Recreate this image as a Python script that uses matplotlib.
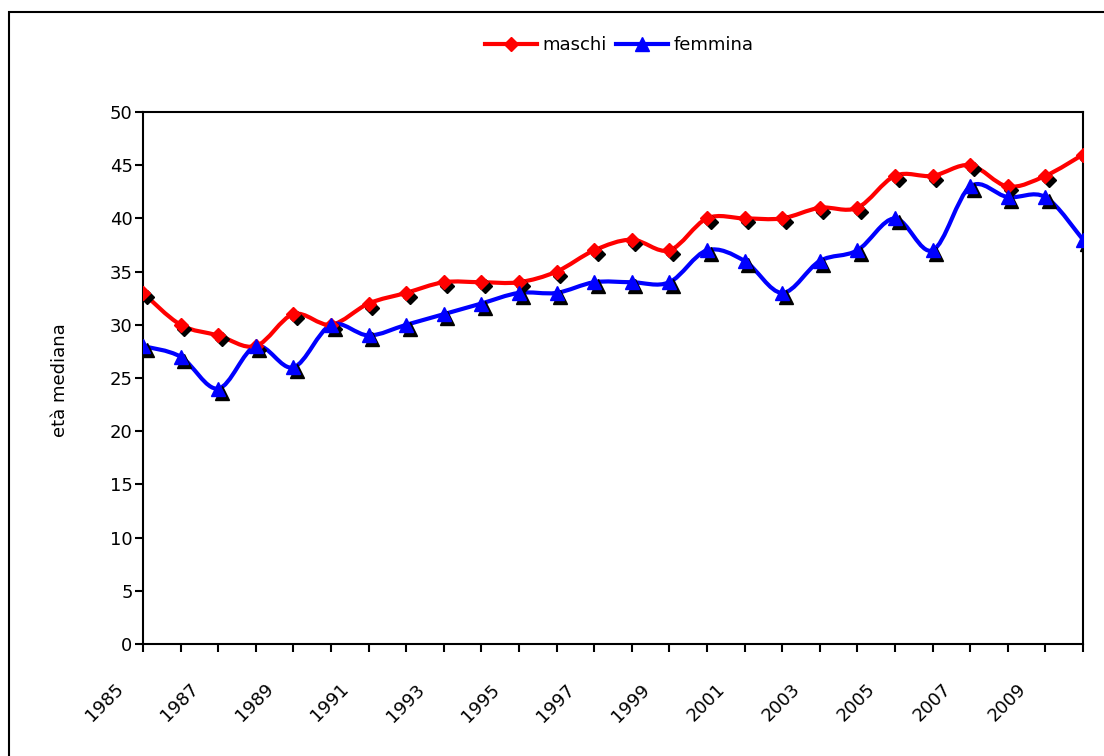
import numpy as np
import matplotlib.pyplot as plt
import matplotlib.transforms as mtransforms
from matplotlib.path import Path
from matplotlib.patches import PathPatch, Rectangle
from matplotlib.lines import Line2D

plt.rcParams['font.family'] = ['DejaVu Sans']

# Median age by year
anni = np.arange(1985, 2011)
maschi = [33, 30, 29, 28, 31, 30, 32, 33, 34, 34, 34, 35, 37, 38, 37,
          40, 40, 40, 41, 41, 44, 44, 45, 43, 44, 46]
femmina = [28, 27, 24, 28, 26, 30, 29, 30, 31, 32, 33, 33, 34, 34, 34,
           37, 36, 33, 36, 37, 40, 37, 43, 42, 42, 38]
etichette = [str(a) if (a - 1985) % 2 == 0 else '' for a in anni]


def curva_liscia(x, y):
    # smoothed line through the points with cubic Bezier segments
    p = np.column_stack([np.asarray(x, float), np.asarray(y, float)])
    ext = np.vstack([p[0], p, p[-1]])
    verts = [p[0]]
    codes = [Path.MOVETO]
    for i in range(len(p) - 1):
        p0, p1, p2, p3 = ext[i], ext[i + 1], ext[i + 2], ext[i + 3]
        verts += [p1 + (p2 - p0) / 6, p2 - (p3 - p1) / 6, p2]
        codes += [Path.CURVE4] * 3
    return Path(verts, codes)


fig = plt.figure(figsize=(11.04, 7.56), dpi=100)
ax = fig.add_axes([143 / 1104, 1 - 644 / 756, 940 / 1104, 532 / 756])

ombra = mtransforms.offset_copy(ax.transData, fig=fig, x=3.5, y=-4, units='dots')

serie = [(maschi, 'red', 'D', 7), (femmina, 'blue', '^', 10)]
for valori, colore, marker, ms in serie:
    ax.add_patch(PathPatch(curva_liscia(anni, valori), fill=False,
                           edgecolor=colore, lw=3, capstyle='round',
                           joinstyle='round', zorder=3))
    ax.plot(anni, valori, ls='none', marker=marker, ms=ms, color='black',
            transform=ombra, zorder=4)
    ax.plot(anni, valori, ls='none', marker=marker, ms=ms, color=colore,
            zorder=5)

ax.set_xlim(1985, 2010)
ax.set_ylim(0, 50)
ax.set_yticks(range(0, 51, 5))
ax.set_xticks(anni, labels=etichette)
ax.tick_params(axis='both', direction='out', length=6, width=1.5,
               labelsize=13, color='black')
ax.tick_params(axis='y', pad=1.5)
for s in ax.spines.values():
    s.set_linewidth(1.5)

spost = mtransforms.ScaledTranslation(-0.16, -0.23, fig.dpi_scale_trans)
for lbl in ax.get_xticklabels():
    lbl.set_rotation(45)
    lbl.set_ha('right')
    lbl.set_va('top')
    lbl.set_transform(lbl.get_transform() + spost)

fig.text(60 / 1104, 1 - 380 / 756, 'età mediana', rotation=90,
         ha='center', va='center', fontsize=13)

maniglie = [Line2D([], [], color='red', lw=3, marker='D', ms=7),
            Line2D([], [], color='blue', lw=3, marker='^', ms=10)]
fig.legend(maniglie, ['maschi', 'femmina'], loc='center',
           bbox_to_anchor=(619 / 1104, 1 - 45 / 756), ncol=2, frameon=False,
           fontsize=13, handlelength=2.9, handletextpad=0.3,
           columnspacing=0.5)

fig.add_artist(Rectangle((9 / 1104, -0.1), 1.2, 1.1 - 12 / 756,
                         transform=fig.transFigure, fill=False,
                         edgecolor='black', lw=1.5))

fig.savefig('out.png', dpi=100)
